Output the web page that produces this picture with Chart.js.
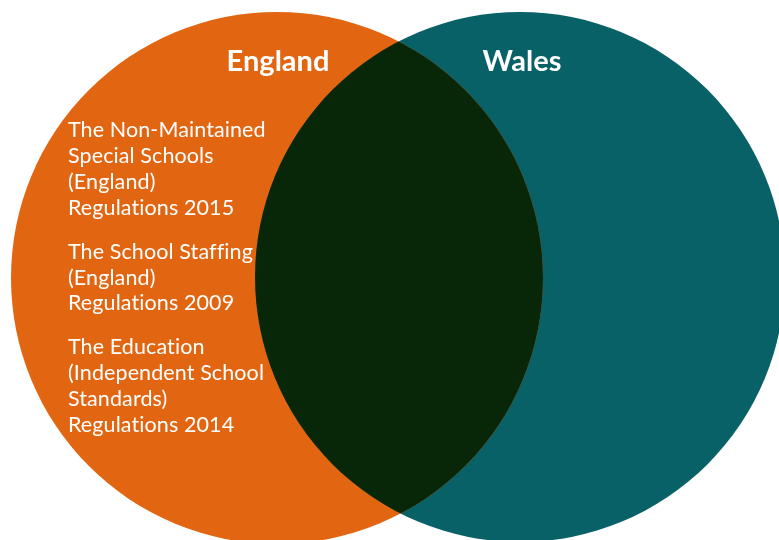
<!DOCTYPE html>
<html>
<head>
<meta charset="utf-8">
<script src="https://cdn.jsdelivr.net/npm/chart.js@4/dist/chart.umd.min.js"></script>
<style>
  html, body { margin: 0; padding: 0; background: #ffffff; }
  #wrap { width: 779px; height: 540px; }
</style>
</head>
<body>
<div id="wrap"><canvas id="venn" width="779" height="540"></canvas></div>
<script>
// ----- Data -----
const setNames = ["England", "Wales"];
const centerX = [277, 520];
const centerY = [278, 277];
const radii = [266, 265];

// items that only apply in England (Wales side and overlap are empty)
const englandItems = [
  ["The Non-Maintained", "Special Schools", "(England)", "Regulations 2015"],
  ["The School Staffing", "(England)", "Regulations 2009"],
  ["The Education", "(Independent School", "Standards)", "Regulations 2014"],
];

const circleColors = ["#e26612", "#096168"];
const overlapColor = "#082709";

// pixel radius from a radius in data units
const radiusPx = (chart, r) => {
  const x = chart.scales.x;
  return Math.abs(x.getPixelForValue(r) - x.getPixelForValue(0));
};

// ----- Overlap + labels -----
const vennPlugin = {
  id: "venn",
  afterDatasetsDraw(chart) {
    const ctx = chart.ctx;
    const a = chart.getDatasetMeta(0).data[0];
    const b = chart.getDatasetMeta(1).data[0];
    const ra = radiusPx(chart, radii[0]);
    const rb = radiusPx(chart, radii[1]);
    ctx.save();
    ctx.beginPath();
    ctx.arc(a.x, a.y, ra, 0, Math.PI * 2);
    ctx.clip();
    ctx.beginPath();
    ctx.arc(b.x, b.y, rb, 0, Math.PI * 2);
    ctx.fillStyle = overlapColor;
    ctx.fill();
    ctx.restore();
  },
  afterDraw(chart) {
    const ctx = chart.ctx;
    ctx.save();
    ctx.fillStyle = "#ffffff";
    ctx.textBaseline = "alphabetic";

    // set titles
    ctx.font = "bold 29px Lato";
    ctx.textAlign = "center";
    const titleX = [278, 522];
    setNames.forEach((name, i) => ctx.fillText(name, titleX[i], 71));

    // England-only list (small letter spacing also keeps "ffi" unligatured)
    ctx.font = "21.5px Lato";
    ctx.textAlign = "left";
    if ("letterSpacing" in ctx) ctx.letterSpacing = "0.1px";
    let y = 137;
    englandItems.forEach((group) => {
      group.forEach((line) => {
        ctx.fillText(line, 68, y);
        y += 25.9;
      });
      y += 18;
    });
    ctx.restore();
  }
};

// ----- Chart Setup -----
const chart = new Chart(document.getElementById("venn"), {
  type: "scatter",
  data: {
    datasets: setNames.map((name, i) => ({
      label: name,
      data: [{ x: centerX[i], y: centerY[i] }],
      backgroundColor: circleColors[i],
      borderWidth: 0,
      pointRadius: (c) => radiusPx(c.chart, radii[i]),
      pointHoverRadius: (c) => radiusPx(c.chart, radii[i]),
    })),
  },
  options: {
    responsive: false,
    animation: false,
    events: [],
    layout: { padding: 0 },
    plugins: {
      legend: { display: false },
      tooltip: { enabled: false },
      title: { display: false },
    },
    scales: {
      x: { type: "linear", min: 0, max: 779, display: false },
      y: { type: "linear", min: 0, max: 540, reverse: true, display: false },
    },
  },
  plugins: [vennPlugin],
});
</script>
</body>
</html>
